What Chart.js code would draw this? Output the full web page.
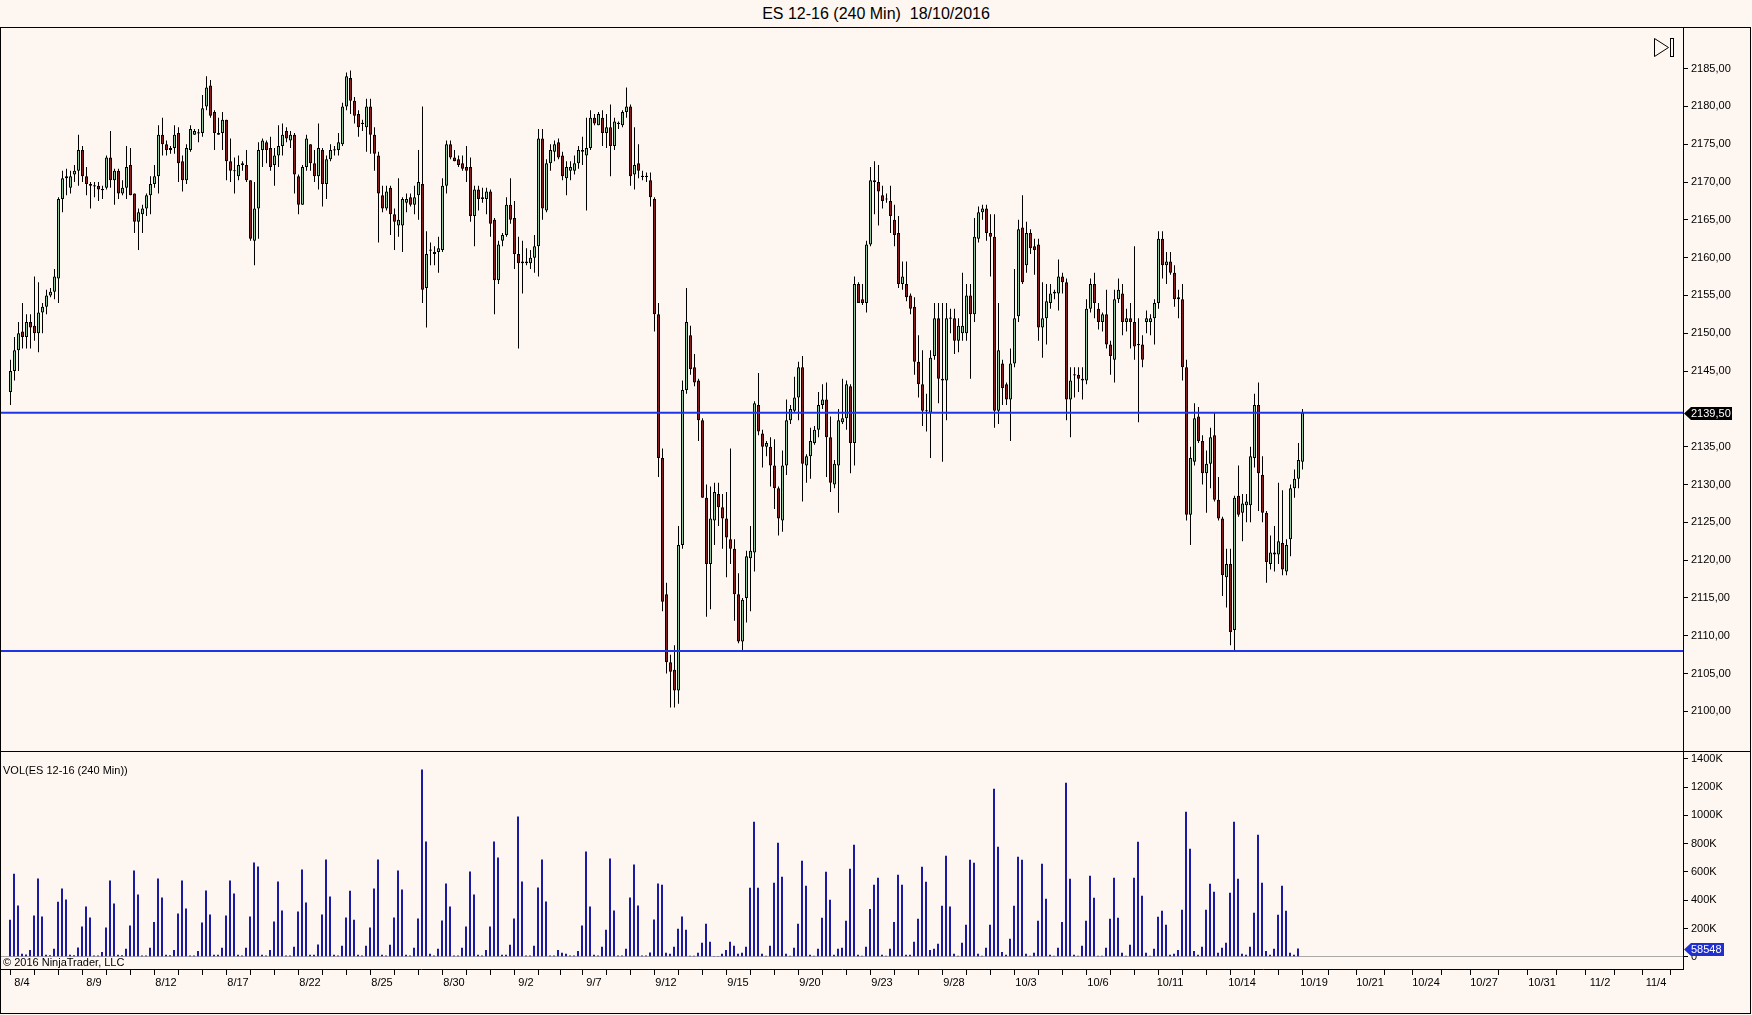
<!DOCTYPE html>
<html>
<head>
<meta charset="utf-8">
<script src="https://cdn.jsdelivr.net/npm/chart.js@4.4.0/dist/chart.umd.min.js"></script>
<style>
  html, body { margin: 0; padding: 0; background: #fdf6f1; }
  body { width: 1752px; height: 1015px; position: relative; overflow: hidden; font-family: Arial, "Liberation Sans", sans-serif; }
  #title { position: absolute; left: 0; top: 5px; width: 1752px; text-align: center; font-size: 16px; color: #000; white-space: pre; }
  #price { position: absolute; left: 1px; top: 28px; }
  #volume { position: absolute; left: 1px; top: 752px; }
  #frame { position: absolute; left: 0; top: 27px; width: 1751px; height: 987px; border: 1px solid #000; box-sizing: border-box; pointer-events: none; }
  #sep { position: absolute; left: 0; top: 751px; width: 1751px; height: 1px; background: #000; }
  .txt { position: absolute; color: #000; white-space: pre; }
  #icon { position: absolute; left: 1653px; top: 37px; }
</style>
</head>
<body>
<div id="title">ES 12-16 (240 Min)  18/10/2016</div>
<canvas id="price" width="1749" height="723"></canvas>
<canvas id="volume" width="1749" height="261"></canvas>
<div id="frame"></div>
<div id="sep"></div>
<div class="txt" style="left:3px;top:764px;font-size:11px;">VOL(ES 12-16 (240 Min))</div>
<div class="txt" style="left:3px;top:956px;font-size:11px;">© 2016 NinjaTrader, LLC</div>
<svg id="icon" width="24" height="22">
  <polygon points="1.5,1.5 1.5,19.5 15.5,10.5" fill="none" stroke="#000" stroke-width="1"/>
  <rect x="17.5" y="1.5" width="3" height="18" fill="none" stroke="#000" stroke-width="1"/>
</svg>
<script>
// 240 min bars, ES 12-16, index 0 = 8/3 afternoon
const opens = [
2142.25,2145,2147.75,2150.25,2149.5,2151.5,2151,2150,2152.75,2153.5,
2155,2155.5,2157.25,2167.75,2170.5,2169.25,2171,2171.5,2174.25,2170.75,
2169.75,2169.5,2169.5,2169,2169.25,2173.25,2170.25,2171.5,2168.5,2169.25,
2172.25,2168.5,2164.75,2165.75,2166.5,2168.25,2169.75,2170.75,2176.25,2175,
2174.25,2174.5,2176.5,2172.75,2170.25,2174.25,2176.25,2176.5,2176.5,2180,
2182.75,2179.25,2176.5,2176.5,2178.25,2172.75,2171.5,2170.75,2172.25,2172.25,
2170.25,2162.25,2166.5,2174.25,2175.25,2174.5,2172.25,2173.5,2174.75,2176.75,
2175.5,2176.25,2170.75,2167,2172,2175,2172.5,2170.75,2174.25,2169.75,
2173,2174.25,2174.25,2175,2180,2183.75,2180.75,2179,2177.75,2177.25,
2180,2176.25,2173.5,2168.25,2166.5,2169.25,2165.75,2164.25,2164.25,2167.25,
2168,2167,2168.25,2169.75,2156,2161,2160.75,2160.75,2161,2169.5,
2175,2173.25,2173,2172.5,2172,2172,2165.5,2169,2167.75,2167.75,
2168.75,2165,2157,2162.25,2163,2167,2165.25,2160.5,2159.5,2159.25,
2159.25,2160,2161.5,2175.75,2166.25,2172.5,2174,2175.25,2173.5,2170.5,
2171.5,2171.5,2172.5,2174.25,2173.5,2174.5,2178.5,2177.5,2178.5,2176.5,
2177.25,2174.75,2177.75,2177.5,2179.25,2180,2171,2172.5,2170.75,2170.75,
2170.25,2167.75,2152.5,2133.5,2115.5,2106.5,2105.5,2102.75,2122,2142.5,
2149.75,2145.5,2143.75,2138.5,2128.25,2119.5,2125.25,2128.75,2127,2125.5,
2122.75,2121.5,2115.5,2109.25,2115,2120.25,2121,2140.5,2136.75,2135,
2135,2132.5,2129.5,2125.25,2132.5,2138.5,2139.75,2141.5,2145.5,2132.5,
2133.75,2135.5,2137.25,2140.5,2141.25,2136.25,2130,2132.5,2138.25,2138.75,
2143,2135.5,2156.5,2154.5,2154,2161.75,2170,2170,2168.25,2167.75,
2167.5,2165,2163.25,2156.5,2156.5,2155,2153.5,2146.25,2143.25,2139.75,
2139.5,2147,2152,2144,2143.75,2152,2152,2149,2150,2150,
2155,2152.5,2162.5,2166,2166.5,2163.25,2162.75,2139.75,2146,2143.25,
2141.25,2146,2152.25,2164,2159,2163.25,2161.5,2161.75,2150.75,2152,
2154,2155.25,2155.25,2157.5,2156.75,2141.25,2144.5,2144.5,2144,2143.75,
2153.25,2156.5,2153.25,2151.5,2152.5,2148.5,2146.5,2154.5,2155.25,2151.5,
2152,2151.5,2148.5,2148.5,2151.5,2151.5,2152,2154,2162.5,2159,
2159.5,2158,2154.75,2154.5,2145.5,2126,2133,2139,2135.75,2131.5,
2132.75,2136.5,2128,2125.5,2117.75,2119.5,2110.75,2128.5,2126.25,2127.25,
2127.25,2133.5,2140.5,2131.25,2126.25,2119.5,2120.75,2120.75,2122.25,2118.5,
2122.75,2129.5,2130.75,2133
];
const highs = [
2146.5,2149.5,2151.5,2154,2152.5,2152.5,2157.5,2156.75,2154,2155.75,
2156,2158.5,2168,2171.5,2171.75,2171.5,2172.25,2176.25,2174.75,2172,
2170,2170,2170,2169.5,2173.5,2176.75,2171.75,2171.75,2170.25,2174.75,
2174.5,2168.5,2166.5,2167,2168.5,2170.75,2172.25,2177.5,2178.5,2175.5,
2174.75,2177.5,2177.25,2173.5,2175,2177.5,2177,2177,2181.5,2184,
2183.5,2179.5,2178.5,2179.25,2178.25,2175.75,2173.25,2173.5,2172.75,2174.25,
2170.25,2170,2175.25,2175.75,2175.5,2176,2174.5,2177.5,2177.75,2177.25,
2176.75,2176.5,2171,2172.25,2176.25,2175,2174.25,2177.75,2174.5,2173.5,
2175,2174.75,2176.5,2180.5,2184.5,2184.75,2181.25,2179.5,2178.25,2181,
2181,2177.25,2174,2169.5,2169.5,2169.5,2166.5,2170.5,2168,2168.5,
2168.5,2169.5,2174.25,2180,2163.5,2162,2161.5,2162.75,2170.5,2175.5,
2175.5,2174.25,2173.5,2173.5,2174.75,2173.25,2169.5,2169.5,2169.25,2169.25,
2169,2165.25,2162.25,2163.25,2168,2170.5,2167.5,2162.75,2162.25,2161.25,
2161,2163,2177,2177,2173,2175,2175.5,2175.75,2174,2172.75,
2172.75,2173.5,2174.75,2176,2178.5,2179.5,2179,2179.25,2179.5,2179,
2180.25,2178.5,2178,2179.5,2182.5,2180.25,2177.25,2175,2171.5,2171.25,
2171.25,2168,2154,2134.75,2117,2107.5,2108.75,2124.5,2143.75,2156,
2151,2147.25,2144,2138.75,2130,2129.75,2130.25,2130.25,2128.75,2129,
2134.75,2122.75,2118.25,2115,2121.25,2124.5,2141,2144.75,2137.25,2135.75,
2136.25,2136,2129.75,2134.5,2141.25,2140.5,2144.25,2146.25,2147,2134,
2137.5,2137.75,2142.25,2143.25,2143.5,2139,2133.25,2140,2144,2143.75,
2143.25,2157.5,2156.75,2156.5,2162.25,2172,2172.75,2172.25,2169.5,2168.5,
2169.5,2167,2165.5,2159.5,2159.5,2155.25,2154.75,2149.75,2147.75,2142,
2147.75,2154,2154,2154,2154,2153.25,2153.25,2152,2158,2156.5,
2156.5,2165.25,2166.75,2167,2167,2165.75,2165.75,2154,2146.5,2143.5,
2148,2158.5,2165,2168.25,2164.75,2163.75,2162.5,2162.5,2156.75,2156.5,
2156.5,2155.75,2159.75,2158,2157.25,2145.5,2145.5,2145.5,2145.5,2154.5,
2157.25,2158,2154,2152.75,2155.75,2149,2155.75,2157.25,2156.5,2153.25,
2154,2161.5,2152,2149.75,2153,2152.5,2154.5,2163.5,2163.5,2160.75,
2160.75,2159,2155.75,2156.5,2146.5,2135,2140.75,2140.25,2136.5,2134.5,
2137.5,2139.5,2131,2125.75,2121.5,2121.5,2128.5,2132.5,2128.75,2128.75,
2135,2142,2143.5,2133.75,2126.5,2123.25,2124.5,2130.25,2129.25,2122.75,
2130,2132,2135.5,2140
];
const lows = [
2140.5,2143.75,2145,2148,2148,2148,2149,2147.5,2150,2152.5,
2154.75,2154.5,2154,2166,2168.25,2168.5,2170,2169.5,2170,2168.25,
2166.5,2168,2167.5,2167.75,2169,2169.25,2167,2167.75,2168.25,2167.75,
2168.25,2163.25,2161,2163.25,2165.5,2165.75,2169.25,2168.5,2173.5,2173.5,
2173.75,2173.75,2170,2168.75,2169.75,2174,2176.25,2175.25,2176,2179.5,
2178.5,2174.25,2176.25,2174.25,2170.25,2170,2168.5,2170.25,2171.5,2170,
2162.25,2159,2162.5,2172,2172.5,2171.5,2169.5,2172,2173.5,2175.25,
2174.5,2168.5,2165.75,2167,2171.5,2171.5,2170,2169,2166.75,2167.75,
2172.75,2173.5,2173.5,2174.75,2179.5,2179,2177.75,2176,2176.75,2174,
2173.75,2171.5,2162,2166,2166.25,2163,2161,2162.75,2160.75,2166,
2166.75,2165.75,2165,2154,2150.75,2159,2159,2158,2160.75,2168.5,
2173,2172.75,2172,2171.5,2170,2164.75,2161.5,2166.25,2167.25,2165.75,
2162.75,2152.5,2156.5,2161.5,2162.75,2164.5,2158.5,2148,2155.25,2159,
2158.5,2158,2157.5,2165,2166,2171.5,2172.75,2173,2170.25,2168.25,
2170.25,2171,2171.75,2172.25,2166.25,2174.25,2177.5,2177.5,2174.75,2174.5,
2170.75,2174.25,2177,2177.25,2178.5,2169.5,2169,2170.5,2170.25,2170,
2166.75,2150.25,2131,2113.25,2105,2100.5,2100.5,2101,2121.5,2142,
2144.5,2143,2135.75,2128.25,2112.5,2113.5,2122,2124.5,2121.5,2117.75,
2119.5,2112,2109,2108,2111.75,2113.25,2118.5,2136.5,2132.25,2133.75,
2129.75,2126.75,2123.25,2123.75,2131.25,2138,2139.5,2138.5,2127.75,2130.25,
2130.75,2135.25,2136.25,2140,2131,2129,2129.5,2126.25,2138,2137.25,
2131.5,2132.5,2154,2153.75,2152.75,2161.5,2165.75,2164.25,2166.5,2167.25,
2163.25,2161.5,2156,2155.75,2154.25,2152.5,2144.5,2141.5,2137.75,2137,
2133.5,2146.5,2140.75,2133,2138.5,2150,2147.25,2147.5,2149,2149,
2144,2151.5,2162,2165,2162.25,2157.5,2137.5,2138,2140.5,2140.5,
2135.75,2145.5,2151.5,2156.5,2158,2160.5,2157.75,2149,2146.75,2148.5,
2153.25,2154.5,2153,2155.25,2138.5,2136.25,2141.5,2142.25,2141.25,2143.25,
2152.75,2152,2150.5,2150.25,2148,2144.5,2143.5,2154,2149.75,2150.25,
2148,2146.5,2138.25,2145.5,2150,2149.75,2148.5,2153.25,2157.25,2156.5,
2157.75,2153.5,2152,2143.75,2125.25,2122,2132.5,2135.5,2130,2126.25,
2129.5,2127.75,2125.25,2115.25,2113.75,2108.75,2108,2125.75,2122.5,2125,
2125,2132.25,2126.5,2125,2117,2118.75,2118.5,2119.5,2118,2118,
2120.5,2128.25,2129.5,2132
];
const closes = [
2145,2147.75,2150,2149.5,2151.5,2150.75,2150,2152.75,2153.5,2155,
2155.5,2157.5,2167.75,2170.5,2170.75,2170.75,2171.5,2174.25,2170.75,2169.75,
2169.5,2169.5,2169,2169,2173.25,2170.25,2171.5,2168.5,2169.25,2172,
2168.25,2164.75,2166,2166.5,2168.25,2169.75,2170.75,2176.25,2175,2174.25,
2174.5,2176.25,2172.5,2170.25,2174.5,2177,2176.75,2176.5,2179.75,2182.5,
2178.75,2176.5,2176.25,2178.25,2172.75,2171.5,2171.5,2172.25,2172.5,2170.25,
2162.5,2166.5,2174.25,2175.5,2174.25,2172,2173.5,2174.75,2176.25,2175.75,
2176.25,2171,2167,2172,2175.75,2172.5,2170.75,2174.5,2169.75,2173,
2174.25,2174.25,2175.25,2180,2184,2180.75,2178.75,2177.25,2177.75,2180,
2176.25,2173.75,2168.5,2166.5,2168.75,2165.75,2164.75,2165,2167.75,2167.75,
2167,2168,2170,2155.75,2160.5,2161,2160.5,2161.25,2169.5,2175,
2173.25,2172.75,2172.25,2171.75,2171.5,2165.5,2169,2167.75,2168,2168.75,
2164.5,2157,2161.75,2163,2167,2165,2160.5,2159.25,2159.25,2159.5,
2160,2161.5,2175.75,2166.5,2172.5,2174.25,2175,2173.25,2170.75,2172,
2172,2172.5,2174.25,2174,2174.5,2178.5,2177.75,2179,2176.5,2177.25,
2174.75,2178,2177.75,2179.25,2180,2170.75,2172.25,2171.5,2170.75,2170.75,
2168,2152.5,2133.5,2114.5,2106.5,2105.25,2102.75,2122,2142.5,2151.5,
2145.25,2143.5,2138.5,2128.25,2119.5,2125.5,2129,2127,2125.5,2123,
2121.5,2115.5,2109.25,2114.75,2120.5,2121.25,2140.75,2137,2135,2135.5,
2132.5,2129.5,2125.5,2132.5,2138.5,2140,2141.5,2145.5,2132.75,2133.75,
2135.75,2137.25,2140.5,2141.25,2136.25,2130.25,2132.75,2138.5,2138.75,2143.25,
2135.5,2156.5,2154,2154,2161.75,2170.25,2170.25,2168.75,2167.5,2167.75,
2165.5,2163,2156.5,2157.5,2154.75,2153.25,2146.25,2143.25,2139.75,2139.75,
2146.75,2152,2144,2143.75,2152,2152,2149,2151,2151,2155,
2152.5,2162.75,2166,2166.5,2163.25,2162.75,2139.75,2147.75,2142.75,2141.25,
2146,2152,2163.75,2156.75,2163.25,2161.25,2161,2150.75,2152,2154.25,
2155.25,2155.5,2157.5,2156.75,2141.25,2143.75,2144.5,2144,2143.75,2153.25,
2156.5,2154,2151.5,2152.5,2148.5,2147,2154.5,2155.75,2151.5,2152,
2151.5,2148.25,2148.5,2146.5,2152,2152,2154,2162.5,2159,2159.5,
2158,2154.5,2154.5,2145.5,2126,2133.5,2138.75,2135.75,2131.5,2132.75,
2136.25,2128,2125.5,2118,2119.5,2110.5,2128.25,2126,2127.5,2127.75,
2133.75,2140.5,2131.5,2126.25,2119.75,2121,2121,2122.5,2118.75,2122,
2129.5,2130.75,2133.25,2139.5
];
// volume in thousands of contracts (the bar still forming has no volume plotted yet)
const volumes = [
262,587,363,
21,16,49,292,554,285, 14,12,57,389,483,405, 14,12,66,214,356,278,
9,9,35,207,540,377, 14,12,57,222,610,441, 9,9,64,247,554,420,
14,12,49,306,540,342, 9,9,42,243,469,299, 14,14,64,292,540,448,
14,9,64,285,667,639, 14,9,49,250,533,328, 9,9,71,321,618,384,
14,14,87,299,688,427, 14,9,78,278,467,262, 14,9,78,207,483,688,
14,9,85,278,610,476, 14,9,64,271,1325,816, 21,9,57,257,519,356,
9,9,64,214,603,441, 14,9,49,214,816,702, 14,14,85,271,992,533,
9,9,78,490,688,391, 9,9,49,28,21,
9,9,42,222,745,356, 14,9,71,191,695,328, 9,9,57,420,653,363,
9,9,31,264,519,509, 28,21,71,198,285,191, 7,7,28,99,233,106,
3,3,21,49,106,78, 21,28,71,488,955,488, 21,7,78,523,806,566,
21,7,64,233,679,502, 14,7,57,276,601,403, 14,57,64,255,622,792,
14,7,71,339,509,559, 14,7,57,247,580,509, 14,14,106,269,636,530,
49,57,92,361,714,356, 21,7,99,226,686,665, 21,7,64,226,1188,778,
35,14,127,361,707,686, 21,7,28,255,658,410, 14,7,64,247,1230,552,
14,7,78,255,573,417, 7,7,64,269,559,276, 28,7,85,559,813,431,
28,7,57,283,325,226, 14,21,49,332,1025,764, 42,14,71,332,516,460,
28,64,99,453,955,552, 21,14,71,311,863,523, 42,14,57,297,502,325,
28,14,58.548
];
const levels = [2139.5, 2108];
const priceTicks = [2100,2105,2110,2115,2120,2125,2130,2135,2145,2150,2155,2160,2165,2170,2175,2180,2185];
const volumeTicks = [0,200,400,600,800,1000,1200,1400];
// session start bar index of each day, then projected future days
const dateTicks = [
3,9,15,21,27,33,39,45,51,57,63,69,75,81,87,93,99,105,111,117,123,129,135,
140,146,152,158,164,170,176,182,188,194,200,206,212,218,224,230,236,242,248,
254,260,266,272,278,284,290,296,302,308,314,320,
326,333,340,347,354,361.5,368.5,375.5,383,390,397.5,404.5,411.5
];
const dateLabels = [
'8/4','','','8/9','','','8/12','','','8/17','','','8/22','','','8/25','','','8/30','','','9/2','',
'','9/7','','','9/12','','','9/15','','','9/20','','','9/23','','','9/28','','',
'10/3','','','10/6','','','10/11','','','10/14','','',
'10/19','','10/21','','10/24','','10/27','','10/31','','11/2','','11/4'
];

const upColor = '#8fc89a';
const downColor = '#8b1c1c';
const lineBlue = '#1f35e8';
const volBlue = '#1a1aa6';
const axisFont = { family: 'Arial', size: 11 };

const fmtPrice = v => v.toFixed(2).replace('.', ',');

const wickData = lows.map((l, i) => ({ x: i, y: [l, highs[i]] }));
const bodyData = opens.map((o, i) => {
  let a = Math.min(o, closes[i]), b = Math.max(o, closes[i]);
  if (b - a < 0.15) { const m = (a + b) / 2; a = m - 0.075; b = m + 0.075; }
  return { x: i, y: [a, b] };
});
const bodyColors = opens.map((o, i) => closes[i] >= o ? upColor : downColor);
const levelData = v => [{ x: -5, y: v }, { x: 425, y: v }];

function markerPlugin(id, valueFn, textFn, color, w) {
  return {
    id: id,
    afterDraw(chart) {
      const { ctx, chartArea, scales } = chart;
      const y = Math.round(scales.y.getPixelForValue(valueFn())) + 0.5;
      const x0 = chartArea.right;
      ctx.save();
      ctx.fillStyle = color;
      ctx.beginPath();
      ctx.moveTo(x0 + 1, y);
      ctx.lineTo(x0 + 8, y - 6.5);
      ctx.lineTo(x0 + w, y - 6.5);
      ctx.lineTo(x0 + w, y + 6.5);
      ctx.lineTo(x0 + 8, y + 6.5);
      ctx.closePath();
      ctx.fill();
      ctx.fillStyle = '#fff';
      ctx.font = '11px Arial';
      ctx.textBaseline = 'middle';
      ctx.fillText(textFn(), x0 + 8, y + 0.5);
      ctx.restore();
    }
  };
}

function fixY(scale) { scale.width = 67; scale.paddingTop = 0; scale.paddingBottom = 0; }

new Chart(document.getElementById('price'), {
  type: 'bar',
  data: {
    datasets: [
      { type: 'line', data: levelData(levels[0]), borderColor: lineBlue, borderWidth: 2, pointRadius: 0, order: 0 },
      { type: 'line', data: levelData(levels[1]), borderColor: lineBlue, borderWidth: 2, pointRadius: 0, order: 0 },
      { data: bodyData, backgroundColor: bodyColors, borderColor: '#000', borderWidth: 1, borderSkipped: false,
        barThickness: 3, grouped: false, inflateAmount: 0, order: 1 },
      { data: wickData, backgroundColor: '#000', borderWidth: 0, barThickness: 1, grouped: false, inflateAmount: 0, order: 2 }
    ]
  },
  options: {
    responsive: false,
    animation: false,
    layout: { padding: 0 },
    plugins: { legend: { display: false }, tooltip: { enabled: false } },
    scales: {
      x: { type: 'linear', display: false, min: -2.375, max: 418.125, offset: false },
      y: {
        position: 'right', min: 2094.76, max: 2190.37,
        afterBuildTicks: s => { s.ticks = priceTicks.map(v => ({ value: v })); },
        afterFit: fixY,
        ticks: { callback: v => fmtPrice(v), font: axisFont, color: '#000', padding: 3 },
        grid: { drawOnChartArea: false, tickLength: 5, color: '#000' },
        border: { color: '#000' }
      }
    }
  },
  plugins: [markerPlugin('lastPrice', () => closes[closes.length - 1], () => fmtPrice(closes[closes.length - 1]), '#000', 49)]
});

new Chart(document.getElementById('volume'), {
  type: 'bar',
  data: {
    datasets: [
      { data: volumes.map((v, i) => ({ x: i, y: v })), backgroundColor: volBlue, borderWidth: 0,
        barThickness: 2, grouped: false, inflateAmount: 0 }
    ]
  },
  options: {
    responsive: false,
    animation: false,
    layout: { padding: 0 },
    plugins: { legend: { display: false }, tooltip: { enabled: false } },
    scales: {
      x: {
        type: 'linear', min: -2.25, max: 418.25, offset: false,
        afterBuildTicks: s => { s.ticks = dateTicks.map(v => ({ value: v })); },
        afterFit: s => { s.height = 44; s.paddingLeft = 0; s.paddingRight = 0; },
        ticks: { callback: (v, i) => dateLabels[i], autoSkip: false, maxRotation: 0, font: axisFont, color: '#000', padding: 1 },
        grid: { drawOnChartArea: false, tickLength: 6, color: '#000' },
        border: { color: '#000' }
      },
      y: {
        position: 'right', min: -86, max: 1448,
        afterBuildTicks: s => { s.ticks = volumeTicks.map(v => ({ value: v })); },
        afterFit: fixY,
        ticks: { callback: v => v === 0 ? '0' : v + 'K', font: axisFont, color: '#000', padding: 3 },
        grid: { drawOnChartArea: true, tickLength: 5, tickColor: '#000',
          color: c => (c.tick && c.tick.value === 0) ? '#a9a9a9' : 'rgba(0,0,0,0)' },
        border: { color: '#000' }
      }
    }
  },
  plugins: [markerPlugin('lastVolume', () => volumes[volumes.length - 1], () => String(Math.round(volumes[volumes.length - 1] * 1000)), '#1f2fd0', 41)]
});
</script>
</body>
</html>
